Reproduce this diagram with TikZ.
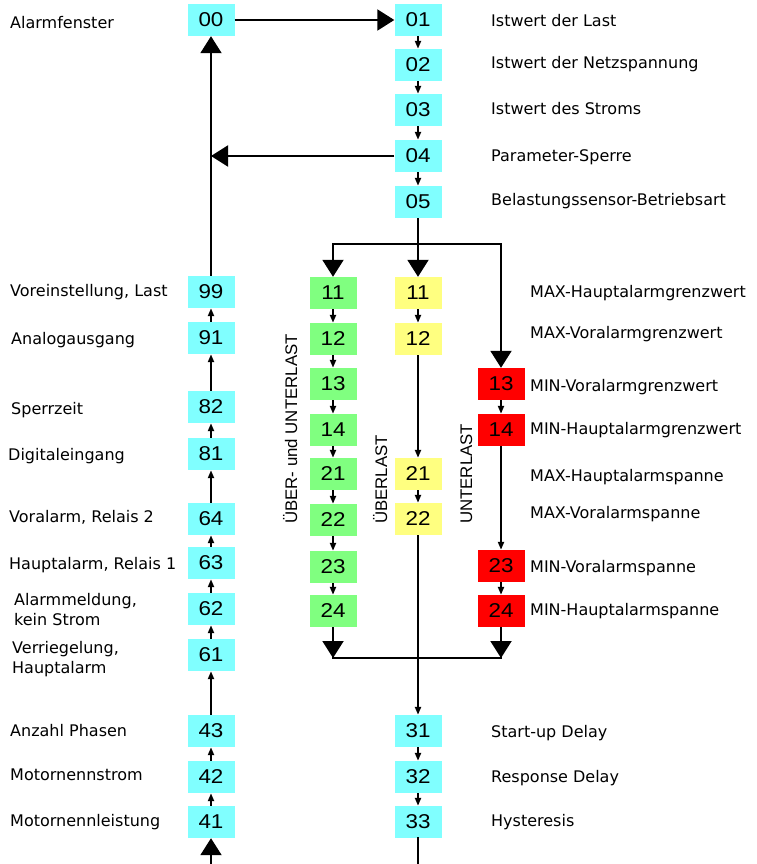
\documentclass[tikz,border=0pt]{standalone}
\usepackage{fontspec}
\setmainfont{DejaVu Sans}
\newfontfamily\boxfont[FakeStretch=1.12]{Liberation Sans}
\newfontfamily\vfont{Liberation Sans}
\usetikzlibrary{arrows.meta}

\definecolor{cyanbox}{RGB}{128,255,255}
\definecolor{greenbox}{RGB}{128,255,128}
\definecolor{yellowbox}{RGB}{255,255,128}
\definecolor{redbox}{RGB}{255,0,0}

\begin{document}
\begin{tikzpicture}[x=1pt, y=-1pt,
        box/.style  = {minimum width=47pt, minimum height=32pt, inner sep=0pt, font=\boxfont\fontsize{20}{24}\selectfont},
        cy/.style   = {box, fill=cyanbox},
        gr/.style   = {box, fill=greenbox},
        ye/.style   = {box, fill=yellowbox},
        rd/.style   = {box, fill=redbox},
        ln/.style   = {line width=2pt, line cap=rect},
        ar/.style   = {-{Triangle[length=8pt, width=6pt]}, line width=2pt},
        bar/.style  = {-{Triangle[length=17pt, width=21pt]}, line width=2pt},
        lbl/.style  = {anchor=base west, inner sep=0pt, font=\fontsize{16}{20}\selectfont},
        lbl2/.style = {anchor=west, inner sep=0pt, align=left, font=\fontsize{16}{20}\selectfont},
        vlbl/.style = {rotate=90, anchor=base west, inner sep=0pt, font=\vfont\fontsize{16.8}{20}\selectfont}
    ]
        \useasboundingbox (0,0) rectangle (756,864);

        % main chain
        \node[cy] (p00) at (211,20)  {00};
        \node[cy] (p01) at (418,20)  {01};
        \node[cy] (p02) at (418,65)  {02};
        \node[cy] (p03) at (418,110) {03};
        \node[cy] (p04) at (418,156) {04};
        \node[cy] (p05) at (418,202) {05};

        % left column
        \node[cy] (p99) at (211,292) {99};
        \node[cy] (p91) at (211,338) {91};
        \node[cy] (p82) at (211,407) {82};
        \node[cy] (p81) at (211,454) {81};
        \node[cy] (p64) at (211,519) {64};
        \node[cy] (p63) at (211,563) {63};
        \node[cy] (p62) at (211,609) {62};
        \node[cy] (p61) at (211,655) {61};
        \node[cy] (p43) at (211,731) {43};
        \node[cy] (p42) at (211,777) {42};
        \node[cy] (p41) at (211,822) {41};

        % sensor modes
        \node[gr] (g11) at (333,293) {11};
        \node[gr] (g12) at (333,339) {12};
        \node[gr] (g13) at (333,384) {13};
        \node[gr] (g14) at (333,430) {14};
        \node[gr] (g21) at (333,474) {21};
        \node[gr] (g22) at (333,520) {22};
        \node[gr] (g23) at (333,567) {23};
        \node[gr] (g24) at (333,611) {24};

        \node[ye] (y11) at (418,293) {11};
        \node[ye] (y12) at (418,339) {12};
        \node[ye] (y21) at (418,474) {21};
        \node[ye] (y22) at (418,519) {22};

        \node[rd] (r13) at (501,384) {13};
        \node[rd] (r14) at (501,430) {14};
        \node[rd] (r23) at (501,566) {23};
        \node[rd] (r24) at (501,611) {24};

        % delays
        \node[cy] (p31) at (418,731) {31};
        \node[cy] (p32) at (418,777) {32};
        \node[cy] (p33) at (418,822) {33};

        \coordinate (j04)    at (211,156);
        \coordinate (forkL)  at (333,244);
        \coordinate (forkR)  at (501,244);
        \coordinate (mergeL) at (333,658);
        \coordinate (mergeR) at (501,658);
        \coordinate (in41)   at (211,864);
        \coordinate (out33)  at (418,864);

        % connectors
        \draw[bar] (p00) -- (p01);
        \foreach \a/\b in {p01/p02, p02/p03, p03/p04, p04/p05}
            \draw[ar] (\a) -- (\b);
        \draw[bar] (p04) -- (j04);
        \draw[bar] (p99) -- (p00);
        \foreach \a/\b in {p91/p99, p82/p91, p81/p82, p64/p81, p63/p64, p62/p63, p61/p62, p43/p61, p42/p43, p41/p42}
            \draw[ar] (\a) -- (\b);
        \draw[bar] (in41) -- (p41);

        \draw[ln] (forkL) -- (forkR);
        \draw[bar] (p05) -- (y11);
        \draw[bar] (forkL) -- (g11);
        \draw[bar] (forkR) -- (r13);
        \foreach \a/\b in {g11/g12, g12/g13, g13/g14, g14/g21, g21/g22, g22/g23, g23/g24, y11/y12, y12/y21, y21/y22, r13/r14, r14/r23, r23/r24}
            \draw[ar] (\a) -- (\b);
        \draw[bar] (g24) -- (mergeL);
        \draw[bar] (r24) -- (mergeR);
        \draw[ln] (mergeL) -- (mergeR);
        \draw[ar] (y22) -- (p31);
        \draw[ar] (p31) -- (p32);
        \draw[ar] (p32) -- (p33);
        \draw[ln] (p33) -- (out33);

        % labels
        \node[lbl] (l00) at (10,29)  {Alarmfenster};
        \node[lbl] (l99) at (10,296) {Voreinstellung, Last};
        \node[lbl] (l91) at (11,344) {Analogausgang};
        \node[lbl] (l82) at (11,414) {Sperrzeit};
        \node[lbl] (l81) at (8,460)  {Digitaleingang};
        \node[lbl] (l64) at (9,522)  {Voralarm, Relais 2};
        \node[lbl] (l63) at (9,569)  {Hauptalarm, Relais 1};
        \node[lbl2] (l62) at (14,610) {Alarmmeldung,\\kein Strom};
        \node[lbl2] (l61) at (12,659) {Verriegelung,\\Hauptalarm};
        \node[lbl] (l43) at (10,736) {Anzahl Phasen};
        \node[lbl] (l42) at (10,780) {Motornennstrom};
        \node[lbl] (l41) at (10,826) {Motornennleistung};

        \node[lbl] (l01) at (491,27)    {Istwert der Last};
        \node[lbl] (l02) at (491,68.5)  {Istwert der Netzspannung};
        \node[lbl] (l03) at (491,115)   {Istwert des Stroms};
        \node[lbl] (l04) at (491,161)   {Parameter-Sperre};
        \node[lbl] (l05) at (491,205.5) {Belastungssensor-Betriebsart};

        \node[lbl] (l11) at (530,297)   {MAX-Hauptalarmgrenzwert};
        \node[lbl] (l12) at (530,338.5) {MAX-Voralarmgrenzwert};
        \node[lbl] (l13) at (530,391)   {MIN-Voralarmgrenzwert};
        \node[lbl] (l14) at (530,434)   {MIN-Hauptalarmgrenzwert};
        \node[lbl] (l21) at (530,481)   {MAX-Hauptalarmspanne};
        \node[lbl] (l22) at (530,518)   {MAX-Voralarmspanne};
        \node[lbl] (l23) at (530,572)   {MIN-Voralarmspanne};
        \node[lbl] (l24) at (530,615)   {MIN-Hauptalarmspanne};

        \node[lbl] (l31) at (491,737) {Start-up Delay};
        \node[lbl] (l32) at (491,782) {Response Delay};
        \node[lbl] (l33) at (491,826) {Hysteresis};

        \node[vlbl] (vboth)  at (297,524) {ÜBER- und UNTERLAST};
        \node[vlbl] (vover)  at (387,524) {ÜBERLAST};
        \node[vlbl] (vunder) at (472,524) {UNTERLAST};
    \end{tikzpicture}
\end{document}
